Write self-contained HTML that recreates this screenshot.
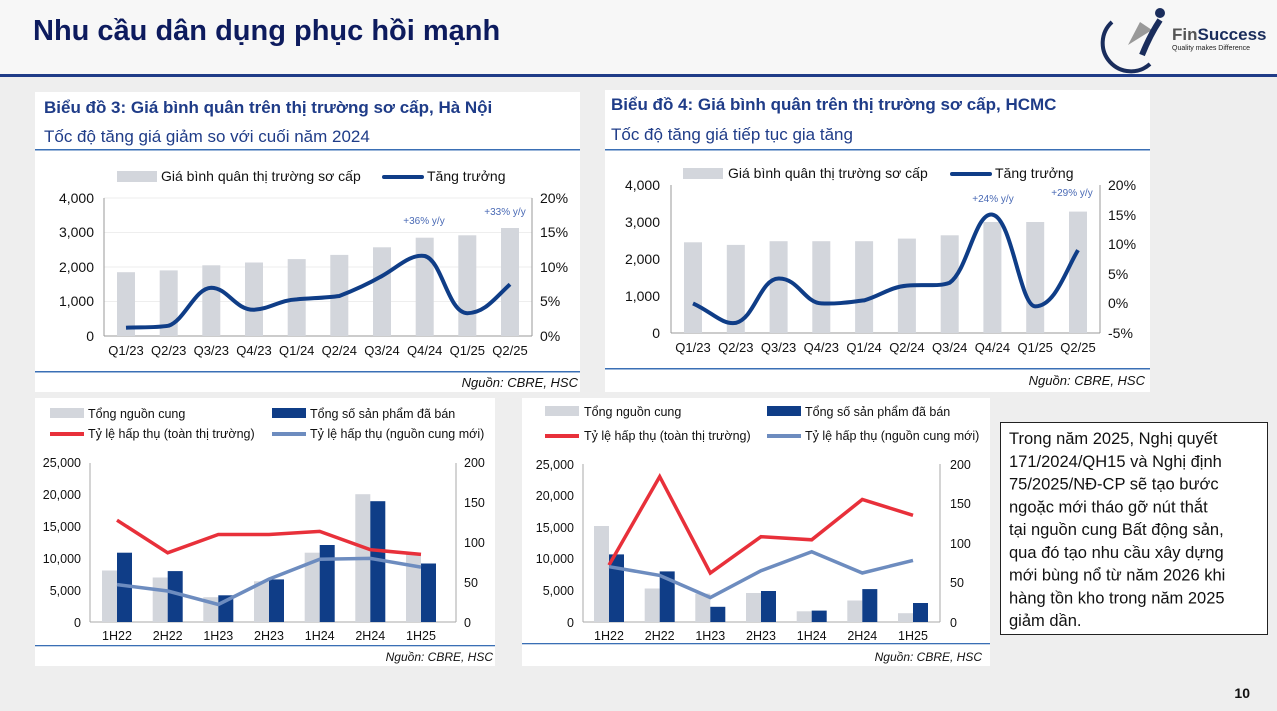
<!DOCTYPE html>
<html><head><meta charset="utf-8"><style>
body{margin:0;width:1277px;height:711px;overflow:hidden;background:#efefef;font-family:"Liberation Sans","Noto Sans CJK SC",sans-serif}
svg{position:absolute;left:0;top:0}
</style></head><body>
<svg width="1277" height="711" viewBox="0 0 1277 711" font-family="Liberation Sans, Noto Sans CJK SC, sans-serif">
<rect width="1277" height="711" fill="#eeeeee"/>
<rect x="0" y="0" width="1277" height="76" fill="#f7f7f7"/>
<text x="33" y="40" font-size="29" font-weight="bold" fill="#0d1b5e">Nhu cầu dân dụng phục hồi mạnh</text>
<rect x="0" y="74" width="1277" height="3" fill="#1f3c88"/>
<path d="M1112 22 A28 28 0 0 0 1150 64" stroke="#1a2d5c" stroke-width="4" fill="none"/>
<path d="M1128 45 L1140 22 L1152 30 Z" fill="#999"/>
<path d="M1142 55 Q1150 35 1160 20" stroke="#1a2d5c" stroke-width="6" fill="none"/>
<circle cx="1160" cy="13" r="5" fill="#1a2d5c"/>
<text x="1172" y="40" font-size="17" font-weight="bold" fill="#555">Fin<tspan fill="#1a2d5c">Success</tspan></text>
<text x="1172" y="50" font-size="7" fill="#222">Quality makes Difference</text>

<rect x="35" y="92" width="545" height="300" fill="#fff"/>
<text x="44" y="113" font-size="17" font-weight="bold" fill="#1f3c88">Biểu đồ 3: Giá bình quân trên thị trường sơ cấp, Hà Nội</text>
<text x="44" y="142" font-size="17" fill="#1f3c88">Tốc độ tăng giá giảm so với cuối năm 2024</text>
<rect x="35" y="149" width="545" height="1.5" fill="#3a6fb5"/>
<rect x="35" y="371" width="545" height="1.5" fill="#3a6fb5"/>
<text x="578" y="387" font-size="13" font-style="italic" text-anchor="end" fill="#111">Nguồn: CBRE, HSC</text>
<rect x="117" y="171" width="40" height="11" fill="#d3d6dc"/>
<text x="161" y="181" font-size="14" fill="#111">Giá bình quân thị trường sơ cấp</text>
<line x1="384" y1="177" x2="422" y2="177" stroke="#0f3d87" stroke-width="4" stroke-linecap="round"/>
<text x="427" y="181" font-size="14" fill="#111">Tăng trưởng</text>
<g stroke="#eee" stroke-width="1"><line x1="104" y1="198" x2="532" y2="198"/><line x1="104" y1="232.5" x2="532" y2="232.5"/><line x1="104" y1="267" x2="532" y2="267"/><line x1="104" y1="301.5" x2="532" y2="301.5"/></g>
<g stroke="#999"><line x1="104" y1="198" x2="104" y2="336"/><line x1="532" y1="198" x2="532" y2="336"/><line x1="104" y1="336" x2="532" y2="336"/></g>
<g font-size="14" fill="#111" text-anchor="end"><text x="94" y="203">4,000</text><text x="94" y="237">3,000</text><text x="94" y="272">2,000</text><text x="94" y="306">1,000</text><text x="94" y="341">0</text></g>
<g font-size="14" fill="#111"><text x="540" y="203">20%</text><text x="540" y="237">15%</text><text x="540" y="272">10%</text><text x="540" y="306">5%</text><text x="540" y="341">0%</text></g>
<g fill="#d3d6dc"><rect x="117" y="272.2" width="18" height="63.8"/><rect x="159.7" y="270.4" width="18" height="65.6"/><rect x="202.3" y="265.3" width="18" height="70.7"/><rect x="245" y="262.5" width="18" height="73.5"/><rect x="287.7" y="259.1" width="18" height="76.9"/><rect x="330.3" y="254.9" width="18" height="81.1"/><rect x="373" y="247.3" width="18" height="88.7"/><rect x="415.7" y="237.7" width="18" height="98.3"/><rect x="458.3" y="235.3" width="18" height="100.7"/><rect x="501" y="228" width="18" height="108"/></g>
<path d="M126 327.7 C140 327 155 328 168.7 325.7 C185 320 195 288 211.3 287.7 C228 288 235 310 254 309.8 C270 309 280 300 296.7 299.4 C312 298 325 298 339.3 296 C355 290 368 284 382 276 C398 267 410 254 424.7 256 C442 260 448 313 467.3 313.2 C485 313 495 298 510 284.3" stroke="#0f3d87" stroke-width="4" fill="none"/>
<g font-size="13" fill="#111" text-anchor="middle"><text x="126" y="355">Q1/23</text><text x="168.7" y="355">Q2/23</text><text x="211.3" y="355">Q3/23</text><text x="254" y="355">Q4/23</text><text x="296.7" y="355">Q1/24</text><text x="339.3" y="355">Q2/24</text><text x="382" y="355">Q3/24</text><text x="424.7" y="355">Q4/24</text><text x="467.3" y="355">Q1/25</text><text x="510" y="355">Q2/25</text></g>
<g font-size="10" fill="#4a6ab5" text-anchor="middle"><text x="424" y="224">+36% y/y</text><text x="505" y="215">+33% y/y</text></g>

<rect x="605" y="90" width="545" height="302" fill="#fff"/>
<text x="611" y="110" font-size="17" font-weight="bold" fill="#1f3c88">Biểu đồ 4: Giá bình quân trên thị trường sơ cấp, HCMC</text>
<text x="611" y="140" font-size="17" fill="#1f3c88">Tốc độ tăng giá tiếp tục gia tăng</text>
<rect x="605" y="149" width="545" height="1.5" fill="#3a6fb5"/>
<rect x="605" y="368" width="545" height="1.5" fill="#3a6fb5"/>
<text x="1145" y="385" font-size="13" font-style="italic" text-anchor="end" fill="#111">Nguồn: CBRE, HSC</text>
<rect x="683" y="168" width="40" height="11" fill="#d3d6dc"/>
<text x="728" y="178" font-size="14" fill="#111">Giá bình quân thị trường sơ cấp</text>
<line x1="952" y1="174" x2="990" y2="174" stroke="#0f3d87" stroke-width="4" stroke-linecap="round"/>
<text x="995" y="178" font-size="14" fill="#111">Tăng trưởng</text>
<g stroke="#999"><line x1="671" y1="185" x2="671" y2="333"/><line x1="1100" y1="185" x2="1100" y2="333"/><line x1="671" y1="333" x2="1100" y2="333"/></g>
<g font-size="14" fill="#111" text-anchor="end"><text x="660" y="190">4,000</text><text x="660" y="227">3,000</text><text x="660" y="264">2,000</text><text x="660" y="301">1,000</text><text x="660" y="338">0</text></g>
<g font-size="14" fill="#111"><text x="1108" y="190">20%</text><text x="1108" y="220">15%</text><text x="1108" y="249">10%</text><text x="1108" y="279">5%</text><text x="1108" y="308">0%</text><text x="1108" y="338">-5%</text></g>
<g fill="#d3d6dc"><rect x="684" y="242.3" width="18" height="90.7"/><rect x="726.8" y="244.9" width="18" height="88.1"/><rect x="769.6" y="241.2" width="18" height="91.8"/><rect x="812.3" y="241.2" width="18" height="91.8"/><rect x="855.1" y="241.2" width="18" height="91.8"/><rect x="897.9" y="238.6" width="18" height="94.4"/><rect x="940.7" y="235.3" width="18" height="97.7"/><rect x="983.4" y="222" width="18" height="111"/><rect x="1026.2" y="222" width="18" height="111"/><rect x="1069" y="211.6" width="18" height="121.4"/></g>
<path d="M693 303.4 C712 312 722 325 735.8 322.9 C755 318 760 279 778.6 278.5 C798 278 805 303 821.3 303.4 C840 304 850 302 864.1 300.4 C880 296 890 287 906.9 285.6 C925 284 938 287 949.7 282.7 C968 270 975 212 992.4 214.6 C1012 218 1020 306 1035.2 306.4 C1055 306 1065 272 1078 250.1" stroke="#0f3d87" stroke-width="4" fill="none"/>
<g font-size="13" fill="#111" text-anchor="middle"><text x="693" y="352">Q1/23</text><text x="735.8" y="352">Q2/23</text><text x="778.6" y="352">Q3/23</text><text x="821.3" y="352">Q4/23</text><text x="864.1" y="352">Q1/24</text><text x="906.9" y="352">Q2/24</text><text x="949.7" y="352">Q3/24</text><text x="992.4" y="352">Q4/24</text><text x="1035.2" y="352">Q1/25</text><text x="1078" y="352">Q2/25</text></g>
<g font-size="10" fill="#4a6ab5" text-anchor="middle"><text x="993" y="202">+24% y/y</text><text x="1072" y="196">+29% y/y</text></g>

<rect x="35" y="398" width="460" height="268" fill="#fff"/>
<rect x="50" y="408" width="34" height="10" fill="#d3d6dc"/><text x="88" y="418" font-size="12.5" fill="#111">Tổng nguồn cung</text>
<rect x="272" y="408" width="34" height="10" fill="#0f3d87"/><text x="310" y="418" font-size="12.5" fill="#111">Tổng số sản phẩm đã bán</text>
<line x1="50" y1="434" x2="84" y2="434" stroke="#e8303a" stroke-width="4"/><text x="88" y="438" font-size="12.5" fill="#111">Tỷ lệ hấp thụ (toàn thị trường)</text>
<line x1="272" y1="434" x2="306" y2="434" stroke="#6d8cbf" stroke-width="4"/><text x="310" y="438" font-size="12.5" fill="#111">Tỷ lệ hấp thụ (nguồn cung mới)</text>
<g stroke="#aaa"><line x1="90" y1="463" x2="90" y2="622"/><line x1="456" y1="463" x2="456" y2="622"/><line x1="90" y1="622" x2="456" y2="622"/></g>
<g font-size="12.5" fill="#111" text-anchor="end"><text x="81" y="467">25,000</text><text x="81" y="499">20,000</text><text x="81" y="531">15,000</text><text x="81" y="563">10,000</text><text x="81" y="595">5,000</text><text x="81" y="627">0</text></g>
<g font-size="12.5" fill="#111"><text x="464" y="467">200</text><text x="464" y="547">100</text><text x="464" y="507">150</text><text x="464" y="587">50</text><text x="464" y="627">0</text></g>
<g fill="#d3d6dc"><rect x="102" y="570.5" width="15" height="51.5"/><rect x="152.7" y="577.5" width="15" height="44.5"/><rect x="203.3" y="597.2" width="15" height="24.8"/><rect x="254" y="581.3" width="15" height="40.7"/><rect x="304.7" y="552.7" width="15" height="69.3"/><rect x="355.3" y="494.2" width="15" height="127.8"/><rect x="406" y="554" width="15" height="68"/></g>
<g fill="#0f3d87"><rect x="117" y="552.7" width="15" height="69.3"/><rect x="167.7" y="571.1" width="15" height="50.9"/><rect x="218.3" y="595.3" width="15" height="26.7"/><rect x="269" y="579.4" width="15" height="42.6"/><rect x="319.7" y="545" width="15" height="77"/><rect x="370.3" y="501.2" width="15" height="120.8"/><rect x="421" y="563.5" width="15" height="58.5"/></g>
<polyline points="117,520.2 167.7,552.8 218.3,534.5 269,534.5 319.7,531.4 370.3,549.7 421,554.4" stroke="#e8303a" stroke-width="3.5" fill="none"/>
<polyline points="117,584.6 167.7,591 218.3,604.5 269,579.1 319.7,559.2 370.3,558.4 421,567.1" stroke="#6d8cbf" stroke-width="3.5" fill="none"/>
<g font-size="12.5" fill="#111" text-anchor="middle"><text x="117" y="640">1H22</text><text x="167.7" y="640">2H22</text><text x="218.3" y="640">1H23</text><text x="269" y="640">2H23</text><text x="319.7" y="640">1H24</text><text x="370.3" y="640">2H24</text><text x="421" y="640">1H25</text></g>
<rect x="35" y="645" width="460" height="1.3" fill="#3a6fb5"/>
<text x="493" y="661" font-size="12" font-style="italic" text-anchor="end" fill="#111">Nguồn: CBRE, HSC</text>

<rect x="522" y="398" width="468" height="268" fill="#fff"/>
<rect x="545" y="406" width="34" height="10" fill="#d3d6dc"/><text x="584" y="416" font-size="12.5" fill="#111">Tổng nguồn cung</text>
<rect x="767" y="406" width="34" height="10" fill="#0f3d87"/><text x="805" y="416" font-size="12.5" fill="#111">Tổng số sản phẩm đã bán</text>
<line x1="545" y1="436" x2="579" y2="436" stroke="#e8303a" stroke-width="4"/><text x="584" y="440" font-size="12.5" fill="#111">Tỷ lệ hấp thụ (toàn thị trường)</text>
<line x1="767" y1="436" x2="801" y2="436" stroke="#6d8cbf" stroke-width="4"/><text x="805" y="440" font-size="12.5" fill="#111">Tỷ lệ hấp thụ (nguồn cung mới)</text>
<g stroke="#aaa"><line x1="583" y1="464" x2="583" y2="622"/><line x1="940" y1="464" x2="940" y2="622"/><line x1="583" y1="622" x2="940" y2="622"/></g>
<g font-size="12.5" fill="#111" text-anchor="end"><text x="574" y="469">25,000</text><text x="574" y="500">20,000</text><text x="574" y="532">15,000</text><text x="574" y="563">10,000</text><text x="574" y="595">5,000</text><text x="574" y="627">0</text></g>
<g font-size="12.5" fill="#111"><text x="950" y="469">200</text><text x="950" y="508">150</text><text x="950" y="548">100</text><text x="950" y="587">50</text><text x="950" y="627">0</text></g>
<g fill="#d3d6dc"><rect x="594" y="526" width="15" height="96"/><rect x="644.7" y="588.5" width="15" height="33.5"/><rect x="695.3" y="593.6" width="15" height="28.4"/><rect x="746" y="593" width="15" height="29"/><rect x="796.7" y="611.3" width="15" height="10.7"/><rect x="847.3" y="600.5" width="15" height="21.5"/><rect x="898" y="613.2" width="15" height="8.8"/></g>
<g fill="#0f3d87"><rect x="609" y="554.4" width="15" height="67.6"/><rect x="659.7" y="571.4" width="15" height="50.6"/><rect x="710.3" y="606.8" width="15" height="15.2"/><rect x="761" y="591" width="15" height="31"/><rect x="811.7" y="610.6" width="15" height="11.4"/><rect x="862.3" y="589.1" width="15" height="32.9"/><rect x="913" y="603" width="15" height="19"/></g>
<polyline points="609,565.1 659.7,476.6 710.3,573 761,536.7 811.7,539.8 862.3,499.5 913,515.3" stroke="#e8303a" stroke-width="3.5" fill="none"/>
<polyline points="609,566.7 659.7,575.4 710.3,597.5 761,570.7 811.7,551.7 862.3,573 913,560.4" stroke="#6d8cbf" stroke-width="3.5" fill="none"/>
<g font-size="12.5" fill="#111" text-anchor="middle"><text x="609" y="640">1H22</text><text x="659.7" y="640">2H22</text><text x="710.3" y="640">1H23</text><text x="761" y="640">2H23</text><text x="811.7" y="640">1H24</text><text x="862.3" y="640">2H24</text><text x="913" y="640">1H25</text></g>
<rect x="522" y="643" width="468" height="1.3" fill="#3a6fb5"/>
<text x="982" y="661" font-size="12" font-style="italic" text-anchor="end" fill="#111">Nguồn: CBRE, HSC</text>

<rect x="1000.5" y="422.5" width="267" height="212" fill="#fff" stroke="#222" stroke-width="1"/>
<g font-size="16.5" fill="#111">
<text x="1009" y="444">Trong năm 2025, Nghị quyết</text>
<text x="1009" y="466.75">171/2024/QH15 và Nghị định</text>
<text x="1009" y="489.5">75/2025/NĐ-CP sẽ tạo bước</text>
<text x="1009" y="512.25">ngoặc mới tháo gỡ nút thắt</text>
<text x="1009" y="535">tại nguồn cung Bất động sản,</text>
<text x="1009" y="557.75">qua đó tạo nhu cầu xây dựng</text>
<text x="1009" y="580.5">mới bùng nổ từ năm 2026 khi</text>
<text x="1009" y="603.25">hàng tồn kho trong năm 2025</text>
<text x="1009" y="626">giảm dần.</text>
</g>
<text x="1250" y="698" font-size="14" font-weight="bold" text-anchor="end" fill="#111">10</text>
</svg>
</body></html>
